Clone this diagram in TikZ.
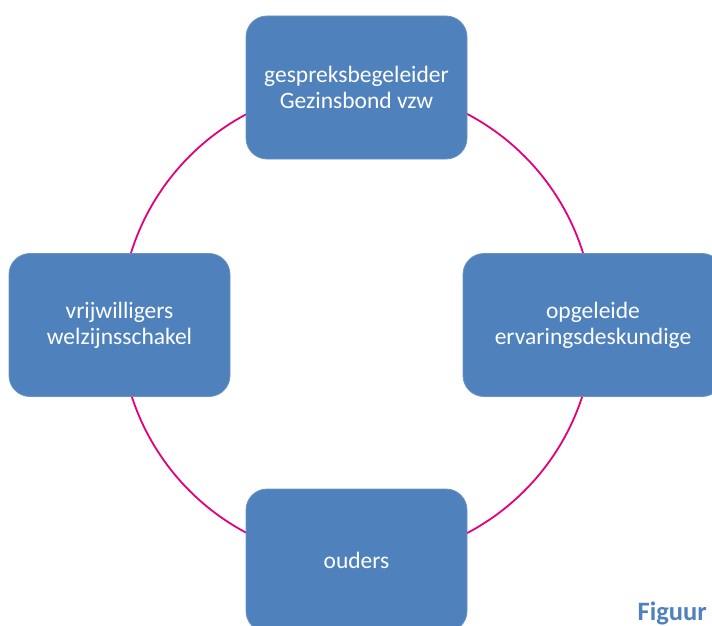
\documentclass[tikz,border=0pt]{standalone}
\usepackage{fontspec}
\setmainfont{Carlito}
\definecolor{boxblue}{HTML}{4F81BD}
\definecolor{boxedge}{HTML}{6A93C6}
\definecolor{ringpink}{HTML}{E4007C}
\begin{document}
\begin{tikzpicture}[x=1pt,y=-1pt,
  box/.style={rectangle, rounded corners=21pt, fill=boxblue, draw=boxedge, line width=0.8pt,
    minimum width=221pt, minimum height=143pt, inner sep=0pt, align=center,
    text=white, font=\fontsize{23.5}{26}\selectfont},
  ring/.style={draw=ringpink, line width=1.8pt}]
\useasboundingbox (0,0) rectangle (712,626);
\clip (0,0) rectangle (712,626);
\coordinate (c) at (357,323.5);
\draw[ring] (c) circle[radius=236.7pt];
\node[box] (top) at (356.5,87.5) {gespreksbegeleider\\Gezinsbond vzw};
\node[box] (left) at (119.5,325) {vrijwilligers\\welzijnsschakel};
\node[box, minimum width=260pt] (right) at (593,325) {opgeleide\\ervaringsdeskundige};
\node[box] (bottom) at (356.5,560.5) {ouders};
\node[text=boxblue, font=\bfseries\fontsize{26.5}{29}\selectfont, anchor=base east, inner sep=0pt] (fig) at (707,620) {Figuur};
\end{tikzpicture}
\end{document}
